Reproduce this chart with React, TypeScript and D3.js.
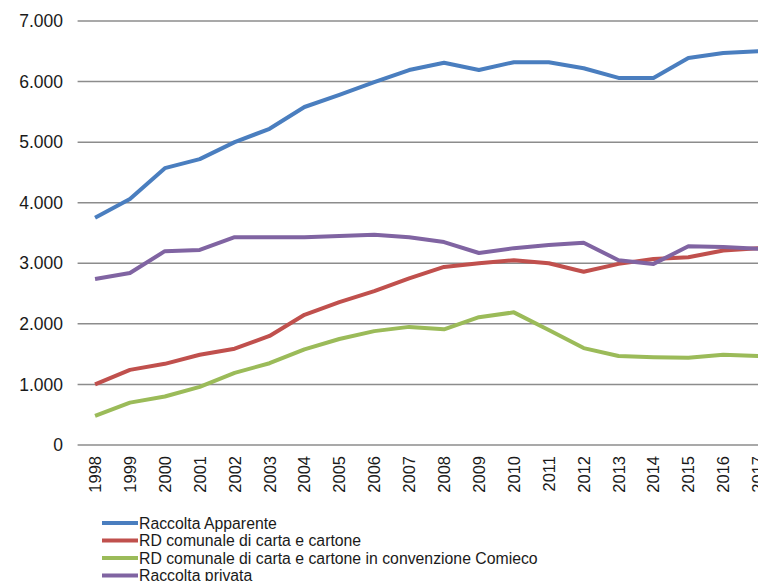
import React, { useEffect, useRef } from "react";
import * as d3 from "d3";

const years = [
  "1998", "1999", "2000", "2001", "2002", "2003", "2004", "2005", "2006", "2007",
  "2008", "2009", "2010", "2011", "2012", "2013", "2014", "2015", "2016", "2017",
];

const raccoltaApparente = [
  3750, 4060, 4570, 4720, 5000, 5220, 5580, 5780, 5990, 6190,
  6310, 6190, 6320, 6320, 6220, 6060, 6060, 6390, 6470, 6500,
];
const rdComunale = [
  1000, 1240, 1340, 1490, 1590, 1800, 2150, 2360, 2540, 2750,
  2940, 3000, 3050, 3000, 2860, 2990, 3070, 3100, 3210, 3250,
];
const rdComieco = [
  480, 700, 800, 960, 1190, 1350, 1580, 1750, 1880, 1950,
  1910, 2110, 2190, 1900, 1600, 1470, 1450, 1440, 1490, 1470,
];
const raccoltaPrivata = [
  2740, 2840, 3200, 3220, 3430, 3430, 3430, 3450, 3470, 3430,
  3350, 3170, 3250, 3300, 3340, 3050, 2990, 3280, 3270, 3240,
];

const yTicks = [0, 1000, 2000, 3000, 4000, 5000, 6000, 7000];

const series = [
  { name: "Raccolta Apparente", values: raccoltaApparente, color: "#4a7ebf" },
  { name: "RD comunale di carta e cartone", values: rdComunale, color: "#c0504d" },
  { name: "RD comunale di carta e cartone in convenzione Comieco", values: rdComieco, color: "#9bbb59" },
  { name: "Raccolta privata", values: raccoltaPrivata, color: "#8064a2" },
];

export default function App() {
  const svgRef = useRef<SVGSVGElement | null>(null);

  useEffect(() => {
    if (!svgRef.current) return;
    const width = 758;
    const height = 581;
    const font = "'Liberation Sans', Arial, sans-serif";

    const svg = d3.select(svgRef.current);
    svg.selectAll("*").remove();
    svg.attr("width", width).attr("height", height).attr("viewBox", `0 0 ${width} ${height}`);

    const x = d3.scaleBand().domain(years).range([77.6, 77.6 + 20 * 34.9]);
    const cx = (d: string) => (x(d) ?? 0) + x.bandwidth() / 2;
    const y = d3.scaleLinear().domain([0, 7000]).range([445, 21]);
    const fmt = (v: number) => d3.format(",")(v).replace(/,/g, ".");

    // gridlines
    svg
      .append("g")
      .selectAll("line")
      .data(yTicks)
      .join("line")
      .attr("x1", 77.6)
      .attr("x2", width)
      .attr("y1", (d) => y(d))
      .attr("y2", (d) => y(d))
      .attr("stroke", "#8c8c8c")
      .attr("stroke-width", 1.5);

    // y labels
    svg
      .append("g")
      .selectAll("text")
      .data(yTicks)
      .join("text")
      .attr("x", 63)
      .attr("y", (d) => y(d))
      .attr("dy", "0.35em")
      .attr("text-anchor", "end")
      .attr("font-family", font)
      .attr("font-size", 17.5)
      .attr("fill", "#1a1a1a")
      .text((d) => fmt(d));

    // x labels
    svg
      .append("g")
      .selectAll("text")
      .data(years)
      .join("text")
      .attr("transform", (d) => `translate(${cx(d)},456) rotate(-90)`)
      .attr("dy", "0.36em")
      .attr("text-anchor", "end")
      .attr("font-family", font)
      .attr("font-size", 16.5)
      .attr("fill", "#1a1a1a")
      .text((d) => d);

    const line = d3
      .line<number>()
      .x((_, i) => cx(years[i]))
      .y((d) => y(d));

    svg
      .append("g")
      .selectAll("path")
      .data(series)
      .join("path")
      .attr("d", (s) => line(s.values))
      .attr("fill", "none")
      .attr("stroke", (s) => s.color)
      .attr("stroke-width", 4)
      .attr("stroke-linejoin", "round");

    // legend
    const legend = svg
      .append("g")
      .selectAll("g")
      .data(series)
      .join("g")
      .attr("transform", (_, i) => `translate(102,${523 + i * 17.5})`);
    legend
      .append("line")
      .attr("x1", 0)
      .attr("x2", 36)
      .attr("stroke", (s) => s.color)
      .attr("stroke-width", 4);
    legend
      .append("text")
      .attr("x", 37)
      .attr("dy", "0.35em")
      .attr("font-family", font)
      .attr("font-size", 15.8)
      .attr("fill", "#1a1a1a")
      .text((s) => s.name);
  }, []);

  return <svg ref={svgRef} style={{ position: "absolute", left: 0, top: 0 }} />;
}
